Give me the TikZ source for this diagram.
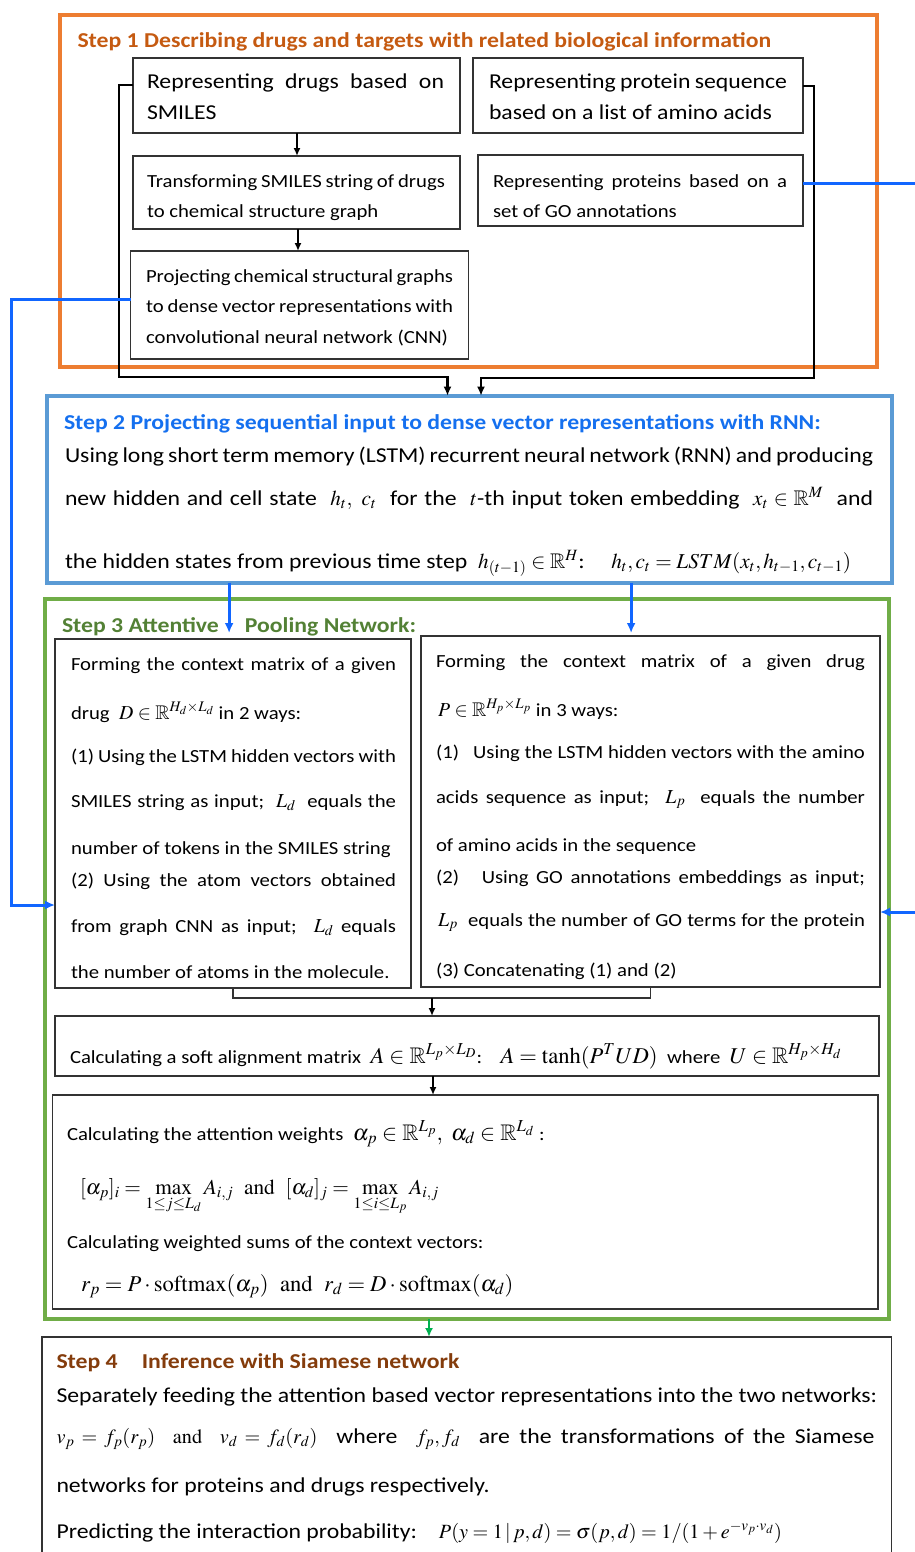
\documentclass[tikz,border=0pt]{standalone}
\usepackage{amssymb}
\usepackage{mathptmx}
\usepackage[no-math]{fontspec}
\setmainfont{Carlito}[FakeStretch=1.12]
\usetikzlibrary{arrows.meta}

\definecolor{frameOrange}{HTML}{ED7D31}
\definecolor{titleOrange}{HTML}{C55A11}
\definecolor{frameBlue}{HTML}{5B9BD5}
\definecolor{titleBlue}{HTML}{1570EF}
\definecolor{frameGreen}{HTML}{70AD47}
\definecolor{titleGreen}{HTML}{538135}
\definecolor{titleBrown}{HTML}{843C0C}
\definecolor{linkBlue}{HTML}{1166FF}
\definecolor{linkGreen}{HTML}{00B050}
\definecolor{boxLine}{HTML}{333333}

% one justified text line: style, name, position, width, text
\newcommand\jl[5]{\node[#1] (#2) at (#3) {\makebox[#4][s]{#5}};}
% formula set at a given size
\newcommand\fm[2]{{\fontsize{#1}{#1}\selectfont$#2$}}

\tikzset{
  frame/.style={draw, line width=4pt, inner sep=0pt, outer sep=0pt},
  pbox/.style={draw=boxLine, line width=1.3pt, inner sep=0pt, outer sep=0pt},
  big/.style={anchor=base west, inner sep=0pt, outer sep=0pt, font=\fontsize{21.2}{25}\selectfont},
  small/.style={anchor=base west, inner sep=0pt, outer sep=0pt, font=\fontsize{18.5}{22}\selectfont},
  ttl/.style={anchor=base west, inner sep=0pt, outer sep=0pt, font=\bfseries\fontsize{21.2}{25}\selectfont},
  link/.style={line width=2.8pt, -{Latex[length=9pt,width=8pt]}},
  thinlink/.style={line width=1.6pt, -{Latex[length=8pt,width=7pt]}},
  bluelink/.style={draw=linkBlue, line width=3pt, -{Latex[length=10pt,width=9pt]}},
}

\begin{document}
\begin{tikzpicture}[x=1pt,y=-1pt]
\useasboundingbox (0,0) rectangle (914,1552);

% ---------- Step 1 ----------
\node[frame, draw=frameOrange, minimum width=817, minimum height=352] (S1) at (468.5,191) {};
\node[ttl, text=titleOrange] (S1t) at (77.5,48) {Step 1 Describing drugs and targets with related biological information};

\node[pbox, minimum width=327, minimum height=75] (A) at (296.5,95.5) {};
\node[pbox, minimum width=330, minimum height=75] (B) at (638,95.5) {};
\node[pbox, minimum width=327, minimum height=73] (C) at (296.5,192.5) {};
\node[pbox, minimum width=325, minimum height=71] (D) at (640.5,190.5) {};
\node[pbox, minimum width=338, minimum height=108] (E) at (299.5,305) {};

\jl{big}{a1}{147,89}{297pt}{Representing drugs based on}
\node[big] (a2) at (147,120) {SMILES};
\jl{big}{b1}{489,89}{298pt}{Representing protein sequence}
\node[big] (b2) at (489,120) {based on a list of amino acids};
\jl{small}{c1}{147,187}{298pt}{Transforming SMILES string of drugs}
\node[small] (c2) at (147,217) {to chemical structure graph};
\jl{small}{d1}{493,187}{294pt}{Representing proteins based on a}
\node[small] (d2) at (493,217) {set of GO annotations};
\jl{small}{e1}{146,282}{307pt}{Projecting chemical structural graphs}
\jl{small}{e2}{146,312}{307pt}{to dense vector representations with}
\node[small] (e3) at (146,343) {convolutional neural network (CNN)};

% ---------- Step 2 ----------
\node[frame, draw=frameBlue, minimum width=845, minimum height=187] (S2) at (469.1,489.2) {};
\node[ttl, text=titleBlue] (S2t) at (64,429) {Step 2 Projecting sequential input to dense vector representations with RNN:};
\jl{big}{s2a}{65,462}{808pt}{Using long short term memory (LSTM) recurrent neural network (RNN) and producing}
\jl{big}{s2b}{65,505}{808pt}{new hidden and cell state \ $h_t,\ c_t$ \ for the \ $t$-th input token embedding \ $x_t\in\mathbb{R}^M$ \ and}
\node[big] (s2c) at (65,568) {the hidden states from previous time step \ $h_{(t-1)}\in\mathbb{R}^H$:\quad\ $h_t,c_t=LSTM(x_t,h_{t-1},c_{t-1})$};

% ---------- Step 3 ----------
\node[frame, draw=frameGreen, minimum width=843.7, minimum height=720] (S3) at (466.85,959) {};
\node[ttl, text=titleGreen] (S3t) at (62,632) {Step 3 Attentive\hspace{26pt}Pooling Network:};

\node[pbox, minimum width=356, minimum height=349] (L) at (233,813.5) {};
\node[pbox, minimum width=459, minimum height=351] (R) at (650.5,811.5) {};
\node[pbox, minimum width=824, minimum height=60] (Al) at (467,1046) {};
\node[pbox, minimum width=825.5, minimum height=214] (At) at (465.25,1202) {};

\jl{small}{l1}{71,670}{325pt}{Forming the context matrix of a given}
\node[small] (l2) at (71,719) {drug \ \fm{19.8}{D\in\mathbb{R}^{H_d\times L_d}} in 2 ways:};
\jl{small}{l3}{71,762}{325pt}{(1) Using the LSTM hidden vectors with}
\jl{small}{l4}{71,807}{325pt}{SMILES string as input; \ \fm{19.8}{L_d} \ equals the}
\node[small] (l5) at (71,854) {number of tokens in the SMILES string};
\jl{small}{l6}{71,886}{325pt}{(2) Using the atom vectors obtained}
\jl{small}{l7}{71,932}{325pt}{from graph CNN as input; \ \fm{19.8}{L_d} equals}
\node[small] (l8) at (71,978) {the number of atoms in the molecule.};

\jl{small}{r1}{436,667}{429pt}{Forming the context matrix of a given drug}
\node[small] (r2) at (438,716) {\fm{19.8}{P\in\mathbb{R}^{H_p\times L_p}} in 3 ways:};
\jl{small}{r3}{436,758}{429pt}{(1) \ \ Using the LSTM hidden vectors with the amino}
\jl{small}{r4}{436,803}{429pt}{acids sequence as input; \ \fm{19.8}{L_p} \ equals the number}
\node[small] (r5) at (436,851) {of amino acids in the sequence};
\jl{small}{r6}{436,883}{429pt}{(2) \ \ Using GO annotations embeddings as input;}
\jl{small}{r7}{438,926}{427pt}{\fm{19.8}{L_p} \ equals the number of GO terms for the protein}
\node[small] (r8) at (436,976) {(3) Concatenating (1) and (2)};

\node[small] (al1) at (70,1063) {Calculating a soft alignment matrix \ \fm{22.6}{A\in\mathbb{R}^{L_p\times L_D}}:\quad \fm{22.6}{A=\tanh(P^TUD)} \ where \ \fm{22.6}{U\in\mathbb{R}^{H_p\times H_d}}};

\node[small] (at1) at (67,1140) {Calculating the attention weights \ \fm{22.6}{\alpha_p\in\mathbb{R}^{L_p},\ \alpha_d\in\mathbb{R}^{L_d}} :};
\node[small] (at2) at (80,1194) {\fm{21.3}{\displaystyle [\alpha_p]_i=\max_{1\le j\le L_d}A_{i,j}\ \ \mathrm{and}\ \ [\alpha_d]_j=\max_{1\le i\le L_p}A_{i,j}}};
\node[small] (at3) at (67,1248) {Calculating weighted sums of the context vectors:};
\node[small] (at4) at (81,1291) {\fm{22.6}{r_p=P\cdot\mathrm{softmax}(\alpha_p)\ \ \mathrm{and}\ \ r_d=D\cdot\mathrm{softmax}(\alpha_d)}};

% ---------- Step 4 ----------
\node[pbox, minimum width=849.6, minimum height=233] (S4) at (466.8,1453.5) {};
\node[ttl, text=titleBrown] (S4t) at (56.5,1368) {Step 4\hspace{24pt}Inference with Siamese network};
\node[big] (s4a) at (56.5,1402) {Separately feeding the attention based vector representations into the two networks:};
\jl{big}{s4b}{56.5,1443}{818pt}{\fm{20.2}{v_p=f_p(r_p)\ \ \mathrm{and}\ \ v_d=f_d(r_d)} \ where \ \fm{20.2}{f_p,f_d} \ are the transformations of the Siamese}
\node[big] (s4c) at (56.5,1492) {networks for proteins and drugs respectively.};
\node[big] (s4d) at (56.5,1538) {Predicting the interaction probability:\hspace{22pt}\fm{20.2}{P(y=1\,|\,p,d)=\sigma(p,d)=1/(1+e^{-v_p\cdot v_d})}};

% ---------- connectors inside Step 1 ----------
\draw[thinlink] ([xshift=0.5pt]A.south) -- ([xshift=0.5pt]A.south |- C.north);
\draw[thinlink] ([xshift=1.5pt]C.south) -- ([xshift=1.5pt]C.south |- E.north);

% drug and protein branches feed Step 2
\coordinate (jL) at (447.5,377);
\coordinate (jR) at (481,378);
\draw[link] ([yshift=10.5pt]A.west) -- ++(-14,0) |- (jL) -- (jL |- S2.north);
\draw[link] ([yshift=9.5pt]B.east) -- ++(11,0) |- (jR) -- (jR |- S2.north);

% graph CNN output to the drug context matrix
\draw[bluelink] ([yshift=6pt]E.west) -| ([xshift=-44pt,yshift=-91.5pt]L.west) -- ([yshift=-91.5pt]L.west);
% GO annotations to the protein context matrix
\draw[bluelink] ([yshift=7.5pt]D.east) -| ([xshift=44pt,yshift=-100.5pt]R.east) -- ([yshift=-100.5pt]R.east);

% Step 2 to the two context matrices
\draw[bluelink, shorten >=6pt] ([xshift=-240pt]S2.south) -- ([xshift=-240pt]S2.south |- L.north);
\draw[bluelink, shorten >=3pt] ([xshift=162pt]S2.south) -- ([xshift=162pt]S2.south |- R.north);

% merge of the two context matrices
\coordinate (m) at (432,998);
\draw[boxLine, line width=1.3pt] (L.south) -- (L.south |- m) -| (R.south);
\draw[thinlink] (m) -- (m |- Al.north);
\draw[thinlink] ([xshift=1pt]Al.south -| m) -- ([xshift=1pt]At.north -| m);

% Step 3 to Step 4
\draw[link, draw=linkGreen] (S3.south -| 429,0) -- (S4.north -| 429,0);
\end{tikzpicture}
\end{document}
